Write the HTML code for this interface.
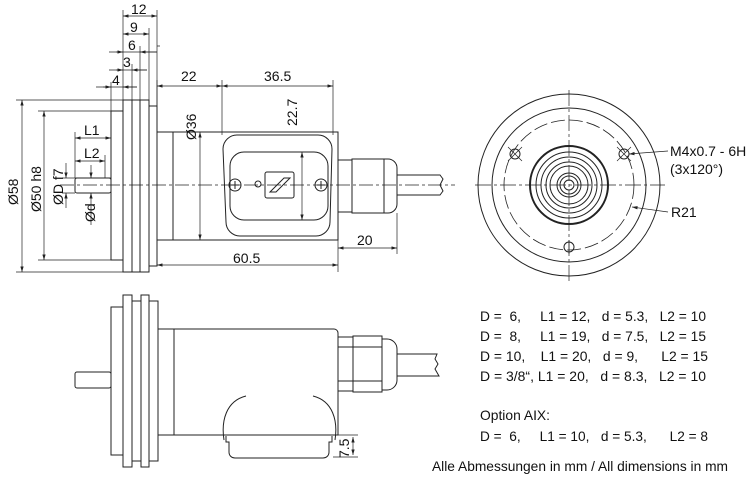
<!DOCTYPE html>
<html><head><meta charset="utf-8"><style>
html,body{margin:0;padding:0;background:#fff}
svg{display:block}
text{font-family:"Liberation Sans",Arial,sans-serif;fill:#111;white-space:pre}
</style></head><body>
<svg width="750" height="499" viewBox="0 0 750 499" xmlns="http://www.w3.org/2000/svg" xml:space="preserve">
<defs>
<marker id="a" viewBox="0 0 10 6" refX="10" refY="3" markerWidth="8" markerHeight="5" orient="auto-start-reverse"><path d="M0,0L10,3L0,6z" fill="#222"/></marker>
</defs>
<g fill="none" stroke="#222" stroke-width="1">
<rect x="111" y="111" width="12" height="149"/>
<rect x="123" y="100" width="9" height="172"/>
<rect x="132" y="100" width="8" height="172"/>
<rect x="140" y="100" width="9" height="172"/>
<rect x="149" y="106" width="8" height="160"/>
<rect x="157" y="132" width="181" height="108"/>
<line x1="173" y1="132" x2="173" y2="240"/>
<path d="M238,135H318a14,14 0 0 1 14,14L330,222a14,14 0 0 1 -14,14H240a14,14 0 0 1 -14,-14L223,149a14,14 0 0 1 15,-14z"/>
<rect x="230" y="152" width="98" height="68" rx="14"/>
<circle cx="235" cy="185" r="6"/><path d="M231,185h8M235,181v8"/>
<circle cx="321" cy="185" r="6"/><path d="M317,185h8M321,181v8"/>
<circle cx="258" cy="184" r="3"/>
<rect x="265" y="172" width="29" height="26" rx="2"/>
<path d="M270,192l14,-14h6l-14,14z"/>
<rect x="338" y="160" width="14" height="52"/>
<rect x="352" y="159" width="32" height="54"/>
<path d="M384,159h4a9,9 0 0 1 9,9v36a9,9 0 0 1 -9,9h-4"/>
<path d="M397,175h43l3,4l-3,6l3,6l-3,4h-43"/>
<rect x="75" y="178" width="36" height="15" rx="2"/>
<path d="M60,185h395" stroke-dasharray="14,3,3,3" stroke-width=".7"/>
<g stroke-width=".7">
<path d="M123,100V10M157,118V10M149,100V28M140,100V46M132,100V64M111,111V82M160,46H157"/>
<line x1="123" y1="16" x2="157" y2="16" marker-start="url(#a)" marker-end="url(#a)"/>
<line x1="123" y1="34" x2="149" y2="34" marker-start="url(#a)" marker-end="url(#a)"/>
<line x1="109" y1="52" x2="157" y2="52"/><path d="M116,52h7" marker-end="url(#a)"/><path d="M157,52h-17" marker-end="url(#a)"/>
<line x1="109" y1="70" x2="147" y2="70"/><path d="M116,70h7" marker-end="url(#a)"/><path d="M147,70h-15" marker-end="url(#a)"/>
<line x1="96" y1="87" x2="137" y2="87"/><path d="M103,87h8" marker-end="url(#a)"/><path d="M137,87h-14" marker-end="url(#a)"/>
<path d="M157,132V80M222,135V80M333,135V80M338,240V272M397,213V254"/>
<line x1="157" y1="86" x2="222" y2="86" marker-start="url(#a)" marker-end="url(#a)"/>
<line x1="222" y1="86" x2="333" y2="86" marker-start="url(#a)" marker-end="url(#a)"/>
<line x1="302" y1="152" x2="302" y2="220" marker-start="url(#a)" marker-end="url(#a)"/>
<line x1="200" y1="132" x2="200" y2="240" marker-start="url(#a)" marker-end="url(#a)"/>
<line x1="157" y1="265" x2="338" y2="265" marker-start="url(#a)" marker-end="url(#a)"/>
<line x1="338" y1="248" x2="397" y2="248" marker-start="url(#a)" marker-end="url(#a)"/>
<path d="M16,100H123M16,272H123M38,111H111M38,260H111"/>
<line x1="22" y1="100" x2="22" y2="272" marker-start="url(#a)" marker-end="url(#a)"/>
<line x1="44" y1="111" x2="44" y2="260" marker-start="url(#a)" marker-end="url(#a)"/>
<path d="M62,178H111M62,193H75"/>
<line x1="66" y1="163" x2="66" y2="178" marker-end="url(#a)"/><line x1="66" y1="208" x2="66" y2="193" marker-end="url(#a)"/>
<line x1="91" y1="165" x2="91" y2="178" marker-end="url(#a)"/><line x1="91" y1="225" x2="91" y2="193" marker-end="url(#a)"/>
<path d="M75,178V132M105,178V155"/>
<line x1="75" y1="138" x2="111" y2="138" marker-start="url(#a)" marker-end="url(#a)"/>
<line x1="75" y1="161" x2="105" y2="161" marker-start="url(#a)" marker-end="url(#a)"/>
</g>
<circle cx="569" cy="185" r="91"/>
<circle cx="569" cy="185" r="77"/>
<circle cx="569" cy="185" r="65" stroke-dasharray="14,4" stroke-width=".8"/>
<circle cx="569" cy="185" r="39" stroke-width="2"/>
<circle cx="569" cy="185" r="33"/><circle cx="569" cy="185" r="28"/><circle cx="569" cy="185" r="23"/><circle cx="569" cy="185" r="19"/>
<circle cx="569" cy="185" r="12"/><circle cx="569" cy="185" r="9"/><circle cx="569" cy="185" r="5"/>
<circle cx="515" cy="154" r="5"/><circle cx="624" cy="154" r="5"/><circle cx="569" cy="247" r="5"/>
<g stroke-width=".7"><path d="M475,185H665M569,90V282" stroke-dasharray="16,3,3,3"/>
<path d="M508,147l14,14M508,161l14,-14M617,161l14,-14M631,161l-14,-14M569,240v14"/>
<line x1="668" y1="151" x2="629" y2="154" marker-end="url(#a)"/>
<line x1="668" y1="212" x2="632" y2="207" marker-end="url(#a)"/></g>
<rect x="111" y="307" width="12" height="148"/>
<rect x="123" y="295" width="9" height="172"/>
<rect x="132" y="301" width="9" height="160"/>
<rect x="141" y="295" width="8" height="172"/>
<rect x="149" y="301" width="9" height="160"/>
<path d="M158,329H334a4,4 0 0 1 4,4V435H158z"/>
<line x1="174" y1="329" x2="174" y2="435"/>
<rect x="338" y="337" width="15" height="54"/>
<path d="M338,347h15M338,381h15M353,347h29M353,381h29"/>
<rect x="353" y="336" width="29" height="56"/>
<path d="M382,339h5a10,10 0 0 1 10,10v31a10,10 0 0 1 -10,10h-5"/>
<path d="M397,354h40l-2,5l3,5l-3,5l4,7h-42"/>
<rect x="75" y="372" width="36" height="16" rx="2"/>
<path d="M246,396c-20,5 -25,25 -22,44M313,396c20,5 25,25 22,44"/>
<path d="M226,436v6h3v10c0,4 3,6 6,6h88c3,0 6,-2 6,-6v-10h3v-6"/>
<g stroke-width=".7"><path d="M333,435H358M333,457H358"/>
<line x1="353" y1="437" x2="353" y2="455" marker-start="url(#a)" marker-end="url(#a)"/></g>
</g>
<g font-size="14">
<text x="131" y="14">12</text>
<text x="130" y="32">9</text>
<text x="128" y="50">6</text>
<text x="123" y="67">3</text>
<text x="112" y="85">4</text>
<text x="181" y="81">22</text>
<text x="264" y="81">36.5</text>
<text x="233" y="263">60.5</text>
<text x="357" y="245">20</text>
<text x="84" y="135">L1</text>
<text x="84" y="158">L2</text>
<text transform="translate(196,140) rotate(-90)">Ø36</text>
<text transform="translate(297,126) rotate(-90)">22.7</text>
<text transform="translate(18,205) rotate(-90)">Ø58</text>
<text transform="translate(41,212) rotate(-90)">Ø50 h8</text>
<text transform="translate(63,205) rotate(-90)">ØD f7</text>
<text transform="translate(95,222) rotate(-90)">Ød</text>
<text transform="translate(349,458) rotate(-90)">7.5</text>
<text x="670" y="156">M4x0.7 - 6H</text>
<text x="670" y="174">(3x120°)</text>
<text x="671" y="217">R21</text>
<text x="480" y="321" textLength="226" lengthAdjust="spacingAndGlyphs">D =  6,     L1 = 12,   d = 5.3,   L2 = 10</text>
<text x="480" y="341" textLength="226" lengthAdjust="spacingAndGlyphs">D =  8,     L1 = 19,   d = 7.5,   L2 = 15</text>
<text x="480" y="361" textLength="228" lengthAdjust="spacingAndGlyphs">D = 10,    L1 = 20,   d = 9,      L2 = 15</text>
<text x="480" y="381" textLength="226" lengthAdjust="spacingAndGlyphs">D = 3/8“, L1 = 20,   d = 8.3,   L2 = 10</text>
<text x="480" y="420" textLength="70" lengthAdjust="spacingAndGlyphs">Option AIX:</text>
<text x="480" y="441" textLength="228" lengthAdjust="spacingAndGlyphs">D =  6,     L1 = 10,   d = 5.3,      L2 = 8</text>
<text x="432" y="471" textLength="296" lengthAdjust="spacingAndGlyphs">Alle Abmessungen in mm / All dimensions in mm</text>
</g>
</svg>
</body></html>
